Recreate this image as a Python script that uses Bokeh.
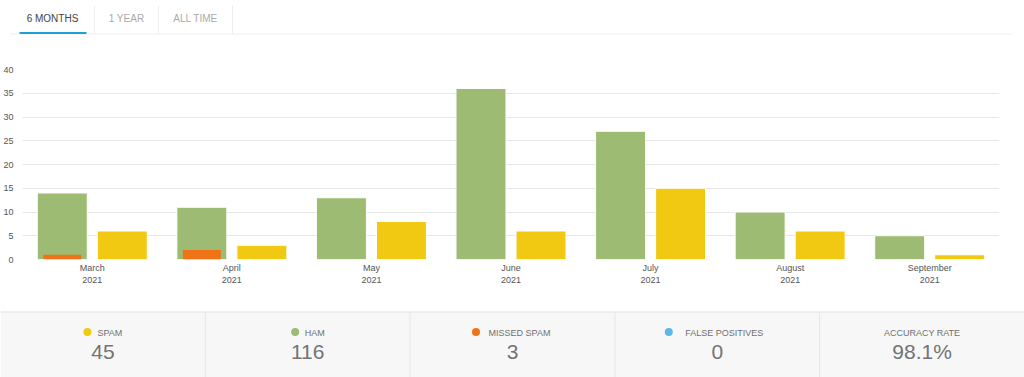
from bokeh.plotting import figure
from bokeh.models import ColumnDataSource, FactorRange, Range1d, FixedTicker
from bokeh.transform import dodge
from bokeh.layouts import column
from bokeh.embed import file_html
from bokeh.resources import INLINE
from bokeh.core.properties import value

# ---------------- data ----------------
months = ["March", "April", "May", "June", "July", "August", "September"]
year = "2021"
ham = [14, 11, 13, 36, 27, 10, 5]
spam = [6, 3, 8, 6, 15, 6, 1]
missed = [1, 2, 0, 0, 0, 0, 0]
false_pos = [0, 0, 0, 0, 0, 0, 0]
y_ticks = [0, 5, 10, 15, 20, 25, 30, 35, 40]
tabs = ["6 MONTHS", "1 YEAR", "ALL TIME"]
stat_labels = ["SPAM", "HAM", "MISSED SPAM", "FALSE POSITIVES", "ACCURACY RATE"]

# ---------------- style ----------------
HAM_C = "#9dbb72"
SPAM_C = "#f2c912"
MISS_C = "#f07318"
FP_C = "#5cb8e8"
FONT = "Liberation Sans"
W = 1024

# ---------------- tabs header ----------------
t = figure(width=W, height=38, x_range=Range1d(0, W), y_range=Range1d(38, 0),
           x_axis_type=None, y_axis_type=None, output_backend="svg",
           toolbar_location=None, min_border=0, frame_align=False)
t.grid.visible = False
t.outline_line_color = None
t.segment(x0=[10], y0=[33.5], x1=[1012], y1=[33.5], line_color="#eeeeee", line_width=1)
t.segment(x0=[94, 158, 232], y0=[5, 5, 5], x1=[94, 158, 232], y1=[33, 33, 33],
          line_color="#eeeeee", line_width=1)
t.segment(x0=[19], y0=[32.5], x1=[86], y1=[32.5], line_color="#1e9fd8", line_width=2)
t.text(x=[52, 126, 195], y=[18, 18, 18], text=tabs,
       text_color=["#444444", "#aaaaaa", "#aaaaaa"], text_font=value(FONT),
       text_font_size="10px", text_align="center", text_baseline="middle")

# ---------------- bar chart ----------------
factors = [f"{m}\n{year}" for m in months]
src = ColumnDataSource(dict(x=factors, ham=ham, spam=spam, missed=missed))

p = figure(width=W, height=262, x_range=FactorRange(*factors), y_range=Range1d(0, 40),
           output_backend="svg", toolbar_location=None, frame_align=False,
           min_border_left=22, min_border_right=25, min_border_top=31, min_border_bottom=41)
p.outline_line_color = None
p.xgrid.grid_line_color = None
p.ygrid.grid_line_color = "#e6e6e6"
p.ygrid.grid_line_width = 1

p.vbar(x=dodge("x", -0.215, range=p.x_range), top="ham", width=0.358, source=src,
       fill_color=HAM_C, line_color="white", line_width=1)
p.vbar(x=dodge("x", 0.215, range=p.x_range), top="spam", width=0.358, source=src,
       fill_color=SPAM_C, line_color="white", line_width=1)
p.vbar(x=dodge("x", -0.215, range=p.x_range), top="missed", width=0.272, source=src,
       fill_color=MISS_C, line_color=None)

p.yaxis.ticker = FixedTicker(ticks=y_ticks)
for ax in (p.xaxis, p.yaxis):
    ax.axis_line_color = None
    ax.major_tick_line_color = None
    ax.minor_tick_line_color = None
    ax.major_tick_out = 0
    ax.major_tick_in = 0
    ax.minor_tick_out = 0
    ax.major_label_text_font = FONT
    ax.major_label_text_font_size = "9px"
    ax.major_label_text_color = "#555555"
p.yaxis.major_label_standoff = 9
p.xaxis.major_label_standoff = 3

# ---------------- stats panel ----------------
total_spam = sum(spam)
total_ham = sum(ham)
total_missed = sum(missed)
total_fp = sum(false_pos)
accuracy = (total_spam + total_ham - total_missed - total_fp) / (total_spam + total_ham) * 100
stat_values = [str(total_spam), str(total_ham), str(total_missed), str(total_fp), f"{accuracy:.1f}%"]
dot_colors = [SPAM_C, HAM_C, MISS_C, FP_C, None]

s = figure(width=W, height=77, x_range=Range1d(0, W), y_range=Range1d(377, 300),
           x_axis_type=None, y_axis_type=None, output_backend="svg",
           toolbar_location=None, min_border=0, frame_align=False)
s.grid.visible = False
s.outline_line_color = None
s.quad(left=[0], right=[W], top=[311], bottom=[377], fill_color="#f7f7f7", line_color=None)
s.segment(x0=[0], y0=[311.5], x1=[W], y1=[311.5], line_color="#e3e3e3", line_width=1)
pw = W / 5
divs = [pw * i for i in range(1, 5)]
s.segment(x0=divs, y0=[312] * 4, x1=divs, y1=[377] * 4, line_color="#e6e6e6", line_width=1)

centers = [pw * (i + 0.5) for i in range(5)]
lab_x, dot_x, dot_c = [], [], []
for c, lab, col in zip(centers, stat_labels, dot_colors):
    if col is None:
        lab_x.append(c)
        continue
    w = len(lab) * 6.0
    dot_x.append(c - (14 + w) / 2 + 3.5)
    dot_c.append(col)
    lab_x.append(c + 7)
s.scatter(x=dot_x, y=[331.5] * len(dot_x), size=8, fill_color=dot_c, line_color=None)
s.text(x=lab_x, y=[332.5] * 5, text=stat_labels, text_font=value(FONT), text_font_size="9px",
       text_color="#707070", text_align="center", text_baseline="middle")
s.text(x=centers, y=[351] * 5, text=stat_values, text_font=value(FONT), text_font_size="21px",
       text_color="#737373", text_align="center", text_baseline="middle")

layout = column(t, p, s, spacing=0)
open("out.html", "w").write(file_html(layout, INLINE))
